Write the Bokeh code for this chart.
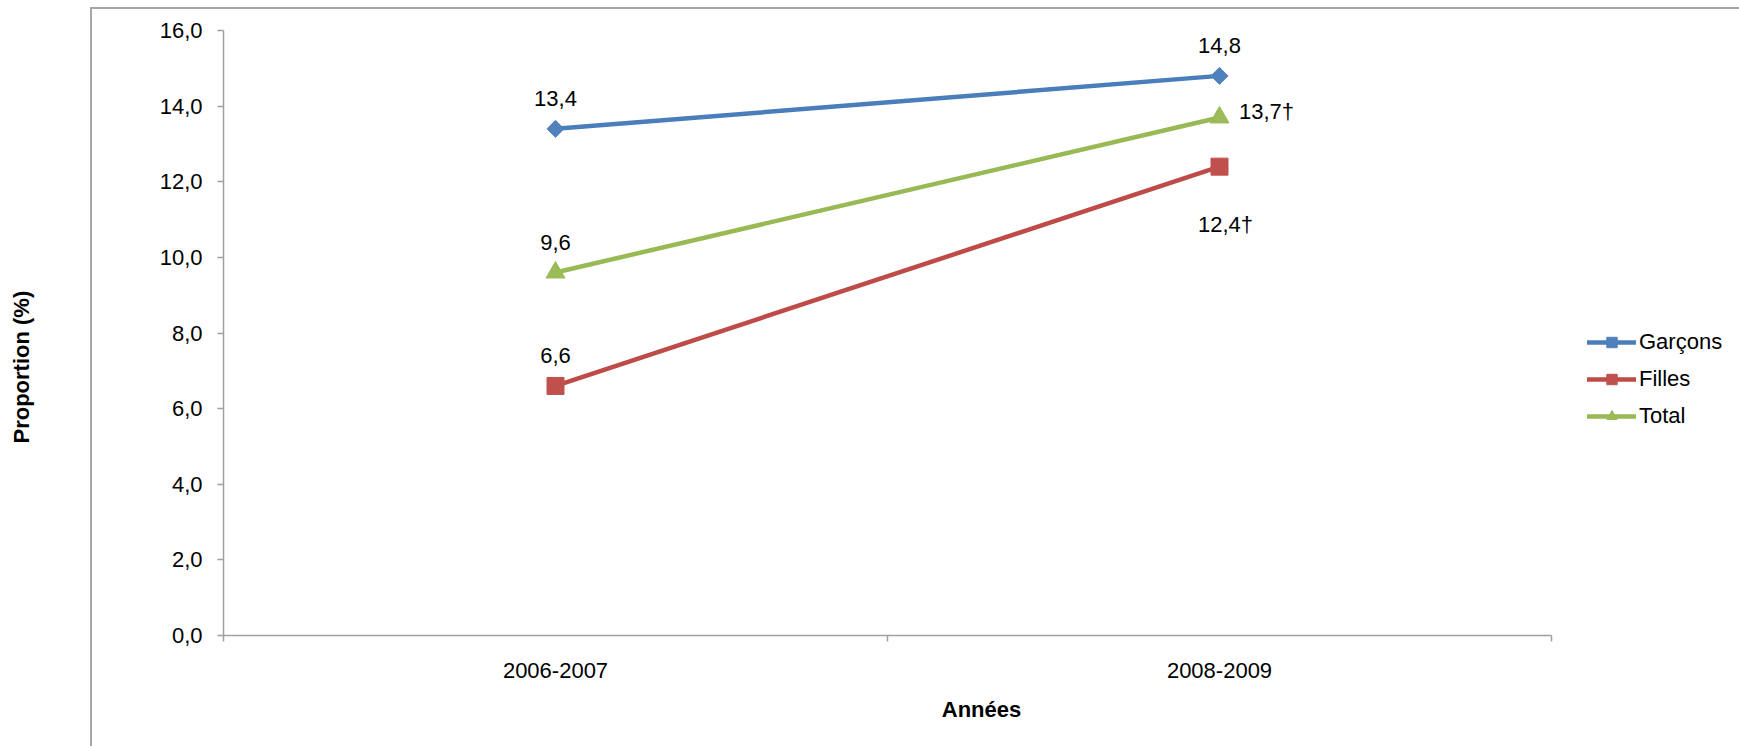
import math
from bokeh.plotting import figure
from bokeh.models import (Range1d, FixedTicker, ColumnDataSource, Legend, LegendItem, Title,
                          LinearAxis)
from bokeh.core.properties import value
from bokeh.embed import file_html
from bokeh.resources import INLINE

# ---------------- data ----------------
categories = ["2006-2007", "2008-2009"]
garcons = [13.4, 14.8]
filles = [6.6, 12.4]
total = [9.6, 13.7]
garcons_marks = ["", ""]
filles_marks = ["", "†"]
total_marks = ["", "†"]
series_names = ["Garçons", "Filles", "Total"]
y_ticks = [0, 2, 4, 6, 8, 10, 12, 14, 16]

FONT = "Liberation Sans"
FS = "22px"
AXIS_GREY = "#A0A0A0"

def fr(v):
    return f"{v:.1f}".replace(".", ",")

xs = [i + 0.5 for i in range(len(categories))]
n = len(categories)

# layout (pixels): frame from x=223 to canvas edge; x axis drawn only up to x=1551
W, H = 1739, 746
FRAME_L, AXIS_R, FRAME_T, FRAME_B = 223, 1551, 30, 635
x_end = n * (W - FRAME_L) / (AXIS_R - FRAME_L)

p = figure(width=W, height=H, output_backend="svg", toolbar_location=None,
           x_range=Range1d(0, x_end), y_range=Range1d(0, 16),
           min_border_left=FRAME_L, min_border_right=0, min_border_top=FRAME_T,
           min_border_bottom=H - FRAME_B)
p.outline_line_color = None
p.grid.visible = False
p.background_fill_alpha = 0
p.border_fill_alpha = 0
# outer chart-area border (left and top edges visible in the window)
p.styles = {
    "background": ("linear-gradient(#A6A6A6, #A6A6A6) 90px 7px / 2px 100% no-repeat, "
                   "linear-gradient(#A6A6A6, #A6A6A6) 90px 7px / 100% 2px no-repeat, white"),
}

# x axis: labels at category centres, ticks at category boundaries
xa = p.xaxis[0]
xa.bounds = (0, n)
xa.ticker = FixedTicker(ticks=xs, minor_ticks=list(range(n + 1)))
xa.major_label_overrides = {x: c for x, c in zip(xs, categories)}
xa.major_tick_out = 0
xa.major_tick_in = 0
xa.minor_tick_out = 6
xa.minor_tick_in = 0
xa.minor_tick_line_color = AXIS_GREY
xa.minor_tick_line_width = 1.5
xa.axis_line_color = AXIS_GREY
xa.axis_line_width = 1.5
xa.major_label_text_font = FONT
xa.major_label_text_font_size = FS
xa.major_label_text_color = "black"
xa.major_label_standoff = 21
xa.axis_label = "Années"
xa.axis_label_text_font = FONT
xa.axis_label_text_font_size = FS
xa.axis_label_text_font_style = "bold"
xa.axis_label_text_color = "black"
xa.axis_label_standoff = 16

ya = p.yaxis[0]
ya.ticker = FixedTicker(ticks=y_ticks, minor_ticks=[])
ya.major_label_overrides = {t: fr(t) for t in y_ticks}
ya.major_tick_out = 6
ya.major_tick_in = 0
ya.major_tick_line_color = AXIS_GREY
ya.major_tick_line_width = 1.5
ya.minor_tick_line_color = None
ya.axis_line_color = AXIS_GREY
ya.axis_line_width = 1.5
ya.major_label_text_font = FONT
ya.major_label_text_font_size = FS
ya.major_label_text_color = "black"
ya.major_label_standoff = 15

# invisible spacer axis so that the y title sits at the far left
spacer = LinearAxis(ticker=FixedTicker(ticks=[8], minor_ticks=[]), major_tick_out=118,
                    major_tick_in=0, axis_line_color=None,
                    major_tick_line_color="white", major_tick_line_alpha=0.01,
                    minor_tick_line_color=None, major_label_standoff=0,
                    major_label_overrides={8: ""})
p.add_layout(spacer, "left")

# y title
p.add_layout(Title(text="Proportion (%)", align="left", offset=192,
                   text_font=FONT, text_font_size=FS, text_font_style="bold",
                   text_color="black", standoff=10), "left")

styles = [
    dict(vals=garcons, marks=garcons_marks, line="#4A7EBB", fill="#4F81BD",
         marker="square", size=12, angle=math.pi / 4,
         dx=[0, 0], dy=[-30, -30]),
    dict(vals=filles, marks=filles_marks, line="#BE4B48", fill="#C0504D",
         marker="square", size=17, angle=0,
         dx=[0, 6], dy=[-30, 58]),
    dict(vals=total, marks=total_marks, line="#98B954", fill="#9BBB59",
         marker="triangle", size=19, angle=0,
         dx=[0, 47], dy=[-30, -6]),
]

items = []
for name, st in zip(series_names, styles):
    src = ColumnDataSource(dict(
        x=xs, y=st["vals"],
        label=[fr(v) + m for v, m in zip(st["vals"], st["marks"])],
        dx=st["dx"], dy=st["dy"]))
    lr = p.line("x", "y", source=src, line_color=st["line"], line_width=4.5,
                line_cap="round", line_join="round")
    sr = p.scatter("x", "y", source=src, marker=st["marker"], size=st["size"],
                   angle=st["angle"], fill_color=st["fill"], line_color=st["fill"])
    p.text("x", "y", text="label", source=src, x_offset="dx", y_offset="dy",
           text_align="center", text_baseline="middle",
           text_font=value(FONT), text_font_size=FS, text_color="black")
    items.append(LegendItem(label=name, renderers=[lr, sr]))

legend = Legend(items=items, location=(1587 - FRAME_L, FRAME_B - 429),
                orientation="vertical",
                padding=0, margin=0, border_line_color=None,
                background_fill_alpha=0, glyph_width=49, glyph_height=26,
                label_height=20, spacing=11, label_standoff=3,
                label_text_font=FONT, label_text_font_size=FS,
                label_text_color="black")
p.add_layout(legend)

open("out.html", "w").write(file_html(p, INLINE))
